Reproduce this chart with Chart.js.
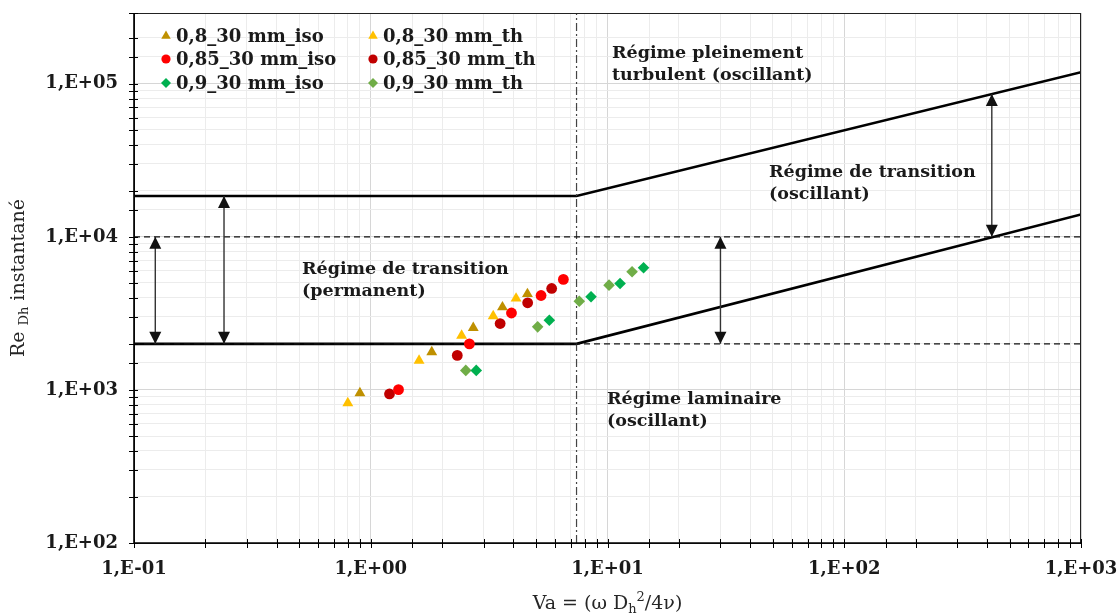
<!DOCTYPE html>
<html><head><meta charset="utf-8">
<script src="https://cdn.jsdelivr.net/npm/chart.js@4.4.1/dist/chart.umd.min.js"></script>
<style>html,body{margin:0;padding:0;background:#fff;}canvas{display:block;}</style>
</head><body>
<canvas id="c" width="1120" height="615"></canvas>
<script>
// ---------- data ----------
const seriesNames = ['0,8_30 mm_iso','0,8_30 mm_th','0,85_30 mm_iso','0,85_30 mm_th','0,9_30 mm_iso','0,9_30 mm_th'];
const va_08_iso  = [0.90, 1.81, 2.71, 3.60, 4.59];
const re_08_iso  = [955, 1766, 2544, 3471, 4236];
const va_08_th   = [0.80, 1.60, 2.42, 3.29, 4.11];
const re_08_th   = [821, 1554, 2266, 3039, 3958];
const va_085_iso = [1.31, 2.61, 3.93, 5.24, 6.51];
const re_085_iso = [1004, 1999, 3181, 4140, 5270];
const va_085_th  = [1.20, 2.32, 3.52, 4.60, 5.81];
const re_085_th  = [941, 1681, 2715, 3709, 4601];
const va_09_iso  = [2.79, 5.68, 8.52, 11.3, 14.2];
const re_09_iso  = [1341, 2853, 4060, 4962, 6285];
const va_09_th   = [2.52, 5.07, 7.60, 10.15, 12.7];
const re_09_th   = [1341, 2583, 3800, 4836, 5920];

// regime boundaries
const vaBoundary   = [0.1, 7.4, 1000];
const reUpperLimit = [18500, 18500, 119000];
const reLowerLimit = [2000, 2000, 14000];
const vaFull       = [0.1, 1000];
const reRef1e4     = [10000, 10000];
const reRef2000    = [2000, 2000];
const vaOscLimit   = [7.4, 7.4];
const reOscLimit   = [100, 300000];
// double arrows
const arrowVa     = [0.123, 0.24, 30, 420];
const arrowReTop  = [10000, 18500, 10000, 85700];
const arrowReBot  = [2000, 2000, 2000, 10000];

const xTickLabels = ['1,E-01','1,E+00','1,E+01','1,E+02','1,E+03'];
const yTickLabels = ['1,E+02','1,E+03','1,E+04','1,E+05'];

// ---------- helpers ----------
const pts = (xs, ys) => xs.map((v, i) => ({x: v, y: ys[i]}));
const isPow10 = v => Math.abs(Math.log10(v) - Math.round(Math.log10(v))) < 1e-9;
const expLabel = (v, labels, minExp) => {
  if (!isPow10(v)) return '';
  const i = Math.round(Math.log10(v)) - minExp;
  return labels[i] !== undefined ? labels[i] : '';
};
const SERIF = '"DejaVu Serif", "Liberation Serif", serif';

const markerStyles = [
  {style:'triangle', color:'#BF9000', r:6.3},
  {style:'triangle', color:'#FFC000', r:6.3},
  {style:'circle',   color:'#FF0000', r:5.4},
  {style:'circle',   color:'#C00000', r:5.4},
  {style:'rectRot',  color:'#00B050', r:5.8},
  {style:'rectRot',  color:'#70AD47', r:5.8}
];
const seriesData = [
  pts(va_08_iso, re_08_iso), pts(va_08_th, re_08_th),
  pts(va_085_iso, re_085_iso), pts(va_085_th, re_085_th),
  pts(va_09_iso, re_09_iso), pts(va_09_th, re_09_th)
];

const datasets = [];
seriesData.forEach((d, i) => {
  const m = markerStyles[i];
  datasets.push({label: seriesNames[i], data: d, pointStyle: m.style, pointRadius: m.r,
    backgroundColor: m.color, borderColor: m.color, borderWidth: 0, showLine: false, order: 0});
});
const lineDs = (data, color, width, dash, extra) => Object.assign({
  data, showLine: true, borderColor: color, borderWidth: width, borderDash: dash || [],
  pointRadius: 0, fill: false, order: 2, tension: 0}, extra || {});
datasets.push(lineDs(pts(vaFull, reRef1e4), '#111', 1.2, [6, 4]));
datasets.push(lineDs(pts(vaFull, reRef2000), '#111', 1.2, [6, 4]));
datasets.push(lineDs(pts(vaOscLimit, reOscLimit), '#444', 1.2, [8, 3, 2, 3]));
datasets.push(lineDs(pts(vaBoundary, reUpperLimit), '#000', 2.6));
datasets.push(lineDs(pts(vaBoundary, reLowerLimit), '#000', 2.6));
arrowVa.forEach((v, i) => {
  datasets.push(lineDs(pts([v, v], [arrowReTop[i], arrowReBot[i]]), '#333', 1.4, [], {arrow: true, order: 1}));
});

// annotation texts anchored in data coordinates (Va, Re of first line centre-left)
const annotations = [
  {va: 10.45, re: 156700, lines: ['Régime pleinement', 'turbulent (oscillant)']},
  {va: 48.1,  re: 26400,  lines: ['Régime de transition', '(oscillant)']},
  {va: 0.5125, re: 6120,  lines: ['Régime de transition', '(permanent)']},
  {va: 9.95,  re: 863,    lines: ['Régime laminaire', '(oscillant)']}
];

function drawMarker(ctx, style, x, y, r) {
  ctx.beginPath();
  if (style === 'triangle') {
    ctx.moveTo(x, y - r);
    ctx.lineTo(x + r * Math.sin(2 * Math.PI / 3), y - r * Math.cos(2 * Math.PI / 3));
    ctx.lineTo(x + r * Math.sin(4 * Math.PI / 3), y - r * Math.cos(4 * Math.PI / 3));
    ctx.closePath();
  } else if (style === 'circle') {
    ctx.arc(x, y, r, 0, Math.PI * 2);
  } else {
    ctx.moveTo(x, y - r); ctx.lineTo(x + r, y); ctx.lineTo(x, y + r); ctx.lineTo(x - r, y); ctx.closePath();
  }
  ctx.fill();
}

const decor = {
  id: 'decor',
  afterDraw(chart) {
    const {ctx, chartArea: a, scales: {x, y}} = chart;
    ctx.save();
    // frame
    ctx.strokeStyle = '#222'; ctx.lineWidth = 1;
    ctx.strokeRect(a.left + 0.5, a.top + 0.5, a.right - a.left - 1, a.bottom - a.top);
    ctx.strokeStyle = '#000'; ctx.lineWidth = 1.6;
    ctx.beginPath(); ctx.moveTo(a.left, a.top); ctx.lineTo(a.left, a.bottom); ctx.lineTo(a.right, a.bottom); ctx.stroke();
    // crossing tick marks
    ctx.lineWidth = 1; ctx.beginPath();
    x.ticks.forEach(t => { const px = Math.round(x.getPixelForValue(t.value)) + 0.5; ctx.moveTo(px, a.bottom - 4); ctx.lineTo(px, a.bottom + 5); });
    y.ticks.forEach(t => { const py = Math.round(y.getPixelForValue(t.value)) + 0.5; ctx.moveTo(a.left - 5, py); ctx.lineTo(a.left + 4, py); });
    ctx.stroke();
    // arrow heads
    ctx.fillStyle = '#111';
    const head = (tip, from) => {
      const ang = Math.atan2(tip.y - from.y, tip.x - from.x), L = 12, W = 6;
      ctx.beginPath(); ctx.moveTo(tip.x, tip.y);
      ctx.lineTo(tip.x - L * Math.cos(ang) + W * Math.sin(ang), tip.y - L * Math.sin(ang) - W * Math.cos(ang));
      ctx.lineTo(tip.x - L * Math.cos(ang) - W * Math.sin(ang), tip.y - L * Math.sin(ang) + W * Math.cos(ang));
      ctx.closePath(); ctx.fill();
    };
    chart.data.datasets.forEach((ds, i) => {
      if (!ds.arrow) return;
      const m = chart.getDatasetMeta(i); const p0 = m.data[0], p1 = m.data[1];
      head(p0, p1); head(p1, p0);
    });
    // legend
    ctx.font = 'bold 18px ' + SERIF; ctx.textBaseline = 'middle'; ctx.textAlign = 'left';
    const colX = [a.left + 32, a.left + 239];
    const rowY = [a.top + 23, a.top + 46, a.top + 70];
    seriesNames.forEach((n, i) => {
      const cx = colX[i % 2], cy = rowY[Math.floor(i / 2)], m = markerStyles[i];
      ctx.fillStyle = m.color; drawMarker(ctx, m.style, cx, cy, m.r - 0.8);
      ctx.fillStyle = '#1a1a1a'; ctx.fillText(n, cx + 10, cy + 1);
    });
    // annotations
    ctx.font = 'bold 17.5px ' + SERIF; ctx.fillStyle = '#1a1a1a';
    annotations.forEach(an => {
      const px = x.getPixelForValue(an.va), py = y.getPixelForValue(an.re);
      an.lines.forEach((l, k) => ctx.fillText(l, px, py + k * 22));
    });
    // axis titles (with sub/superscripts)
    ctx.fillStyle = '#262626'; ctx.textBaseline = 'alphabetic';
    const big = '19px ' + SERIF, small = '13px ' + SERIF;
    const xParts = [['Va = (ω D', big, 0], ['h', small, 4], ['2', small, -8], ['/4ν)', big, 0]];
    let w = 0; xParts.forEach(p => { ctx.font = p[1]; w += ctx.measureText(p[0]).width; });
    let cx = (a.left + a.right) / 2 - w / 2; const by = 609;
    xParts.forEach(p => { ctx.font = p[1]; ctx.fillText(p[0], cx, by + p[2]); cx += ctx.measureText(p[0]).width; });
    const yParts = [['Re ', big, 0], ['Dh', small, 4], [' instantané', big, 0]];
    w = 0; yParts.forEach(p => { ctx.font = p[1]; w += ctx.measureText(p[0]).width; });
    ctx.translate(24, (a.top + a.bottom) / 2); ctx.rotate(-Math.PI / 2);
    cx = -w / 2;
    yParts.forEach(p => { ctx.font = p[1]; ctx.fillText(p[0], cx, p[2]); cx += ctx.measureText(p[0]).width; });
    ctx.restore();
  }
};

const gridColor = c => (c.tick && isPow10(c.tick.value)) ? '#d6d6d6' : '#ececec';

new Chart(document.getElementById('c'), {
  type: 'scatter',
  data: {datasets},
  options: {
    responsive: false, animation: false, devicePixelRatio: 1,
    layout: {padding: {top: 13, right: 39, left: 0, bottom: 0}},
    plugins: {legend: {display: false}, tooltip: {enabled: false}},
    scales: {
      x: {
        type: 'logarithmic', min: 0.1, max: 1000, position: 'bottom',
        border: {display: false},
        grid: {color: gridColor, lineWidth: 1, drawTicks: false},
        ticks: {autoSkip: false, maxRotation: 0, padding: 16, color: '#1a1a1a',
          font: {family: SERIF, size: 18, weight: 'bold'},
          callback: v => expLabel(v, xTickLabels, -1)},
        afterFit: s => { s.height = 72; s.paddingLeft = 0; s.paddingRight = 0; }
      },
      y: {
        type: 'logarithmic', min: 100, max: 290000,
        border: {display: false},
        grid: {color: gridColor, lineWidth: 1, drawTicks: false},
        ticks: {autoSkip: false, padding: 16, color: '#1a1a1a',
          font: {family: SERIF, size: 18, weight: 'bold'},
          callback: v => expLabel(v, yTickLabels, 2)},
        afterFit: s => { s.width = 134; s.paddingTop = 0; s.paddingBottom = 0; }
      }
    }
  },
  plugins: [decor]
});
</script>
</body></html>
